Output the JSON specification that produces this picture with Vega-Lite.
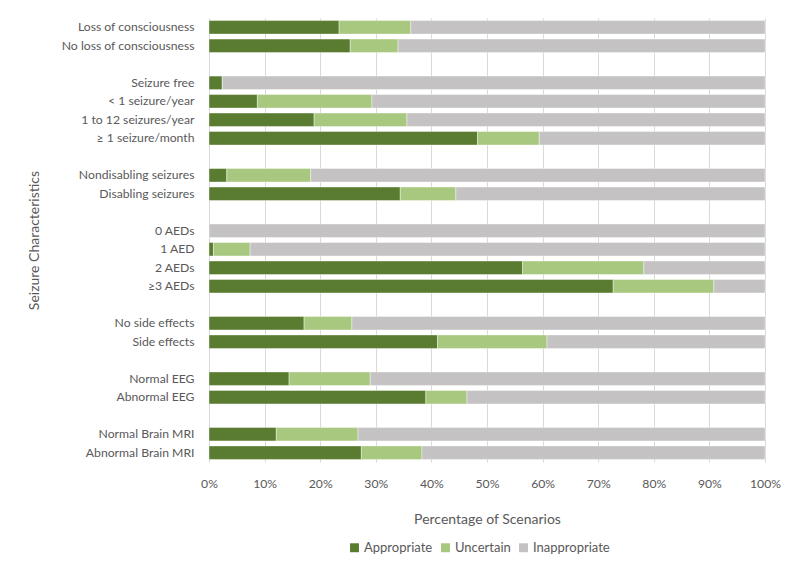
{
  "$schema": "https://vega.github.io/schema/vega-lite/v6.json",
  "width": 556,
  "height": 444,
  "autosize": {"type": "none"},
  "padding": {"left": 209, "top": 18, "right": 35, "bottom": 113},
  "background": "white",
  "config": {
    "font": "Lato",
    "view": {"stroke": null},
    "axis": {"labelColor": "#595959", "titleColor": "#595959", "labelFont": "Lato", "titleFont": "Lato", "titleFontWeight": "normal"}
  },
  "data": {
    "values": [
      {"c": "Loss of consciousness", "r": "Appropriate", "k": 1, "v": 23.4},
      {"c": "Loss of consciousness", "r": "Uncertain", "k": 2, "v": 12.9},
      {"c": "Loss of consciousness", "r": "Inappropriate", "k": 3, "v": 63.7},
      {"c": "No loss of consciousness", "r": "Appropriate", "k": 1, "v": 25.4},
      {"c": "No loss of consciousness", "r": "Uncertain", "k": 2, "v": 8.6},
      {"c": "No loss of consciousness", "r": "Inappropriate", "k": 3, "v": 66.0},
      {"c": "Seizure free", "r": "Appropriate", "k": 1, "v": 2.4},
      {"c": "Seizure free", "r": "Uncertain", "k": 2, "v": 0},
      {"c": "Seizure free", "r": "Inappropriate", "k": 3, "v": 97.6},
      {"c": "< 1 seizure/year", "r": "Appropriate", "k": 1, "v": 8.7},
      {"c": "< 1 seizure/year", "r": "Uncertain", "k": 2, "v": 20.6},
      {"c": "< 1 seizure/year", "r": "Inappropriate", "k": 3, "v": 70.7},
      {"c": "1 to 12 seizures/year", "r": "Appropriate", "k": 1, "v": 18.9},
      {"c": "1 to 12 seizures/year", "r": "Uncertain", "k": 2, "v": 16.7},
      {"c": "1 to 12 seizures/year", "r": "Inappropriate", "k": 3, "v": 64.4},
      {"c": "≥ 1 seizure/month", "r": "Appropriate", "k": 1, "v": 48.3},
      {"c": "≥ 1 seizure/month", "r": "Uncertain", "k": 2, "v": 11.1},
      {"c": "≥ 1 seizure/month", "r": "Inappropriate", "k": 3, "v": 40.6},
      {"c": "Nondisabling seizures", "r": "Appropriate", "k": 1, "v": 3.2},
      {"c": "Nondisabling seizures", "r": "Uncertain", "k": 2, "v": 15.1},
      {"c": "Nondisabling seizures", "r": "Inappropriate", "k": 3, "v": 81.7},
      {"c": "Disabling seizures", "r": "Appropriate", "k": 1, "v": 34.4},
      {"c": "Disabling seizures", "r": "Uncertain", "k": 2, "v": 10.0},
      {"c": "Disabling seizures", "r": "Inappropriate", "k": 3, "v": 55.6},
      {"c": "0 AEDs", "r": "Appropriate", "k": 1, "v": 0},
      {"c": "0 AEDs", "r": "Uncertain", "k": 2, "v": 0},
      {"c": "0 AEDs", "r": "Inappropriate", "k": 3, "v": 100},
      {"c": "1 AED", "r": "Appropriate", "k": 1, "v": 0.8},
      {"c": "1 AED", "r": "Uncertain", "k": 2, "v": 6.6},
      {"c": "1 AED", "r": "Inappropriate", "k": 3, "v": 92.6},
      {"c": "2 AEDs", "r": "Appropriate", "k": 1, "v": 56.4},
      {"c": "2 AEDs", "r": "Uncertain", "k": 2, "v": 21.8},
      {"c": "2 AEDs", "r": "Inappropriate", "k": 3, "v": 21.8},
      {"c": "≥3 AEDs", "r": "Appropriate", "k": 1, "v": 72.7},
      {"c": "≥3 AEDs", "r": "Uncertain", "k": 2, "v": 18.1},
      {"c": "≥3 AEDs", "r": "Inappropriate", "k": 3, "v": 9.2},
      {"c": "No side effects", "r": "Appropriate", "k": 1, "v": 17.1},
      {"c": "No side effects", "r": "Uncertain", "k": 2, "v": 8.6},
      {"c": "No side effects", "r": "Inappropriate", "k": 3, "v": 74.3},
      {"c": "Side effects", "r": "Appropriate", "k": 1, "v": 41.1},
      {"c": "Side effects", "r": "Uncertain", "k": 2, "v": 19.7},
      {"c": "Side effects", "r": "Inappropriate", "k": 3, "v": 39.2},
      {"c": "Normal EEG", "r": "Appropriate", "k": 1, "v": 14.4},
      {"c": "Normal EEG", "r": "Uncertain", "k": 2, "v": 14.6},
      {"c": "Normal EEG", "r": "Inappropriate", "k": 3, "v": 71.0},
      {"c": "Abnormal EEG", "r": "Appropriate", "k": 1, "v": 39.0},
      {"c": "Abnormal EEG", "r": "Uncertain", "k": 2, "v": 7.4},
      {"c": "Abnormal EEG", "r": "Inappropriate", "k": 3, "v": 53.6},
      {"c": "Normal Brain MRI", "r": "Appropriate", "k": 1, "v": 12.1},
      {"c": "Normal Brain MRI", "r": "Uncertain", "k": 2, "v": 14.7},
      {"c": "Normal Brain MRI", "r": "Inappropriate", "k": 3, "v": 73.2},
      {"c": "Abnormal Brain MRI", "r": "Appropriate", "k": 1, "v": 27.4},
      {"c": "Abnormal Brain MRI", "r": "Uncertain", "k": 2, "v": 10.9},
      {"c": "Abnormal Brain MRI", "r": "Inappropriate", "k": 3, "v": 61.7}
    ]
  },
  "mark": {"type": "bar", "stroke": "white", "strokeWidth": 0.4},
  "encoding": {
    "y": {
      "field": "c",
      "type": "nominal",
      "scale": {
        "domain": ["Loss of consciousness", "No loss of consciousness", "gap1", "Seizure free", "< 1 seizure/year", "1 to 12 seizures/year", "≥ 1 seizure/month", "gap2", "Nondisabling seizures", "Disabling seizures", "gap3", "0 AEDs", "1 AED", "2 AEDs", "≥3 AEDs", "gap4", "No side effects", "Side effects", "gap5", "Normal EEG", "Abnormal EEG", "gap6", "Normal Brain MRI", "Abnormal Brain MRI"],
        "paddingInner": 0.27,
        "paddingOuter": 0.14
      },
      "axis": {
        "title": "Seizure Characteristics",
        "titleFontSize": 14,
        "titleX": -168,
        "titleY": 222,
        "titleAngle": -90,
        "labelExpr": "indexof(datum.label, 'gap') == 0 ? '' : datum.label",
        "labelFontSize": 12.2,
        "labelPadding": 15,
        "ticks": false,
        "domain": false,
        "grid": false
      }
    },
    "x": {
      "field": "v",
      "type": "quantitative",
      "stack": "zero",
      "scale": {"domain": [0, 100], "nice": false},
      "axis": {
        "title": "Percentage of Scenarios",
        "titleFontSize": 14,
        "titlePadding": 23,
        "values": [0, 10, 20, 30, 40, 50, 60, 70, 80, 90, 100],
        "labelExpr": "datum.value + '%'",
        "labelFlush": false,
        "labelFontSize": 12.2,
        "labelPadding": 15,
        "ticks": false,
        "domain": false,
        "grid": true,
        "gridColor": "#d9d9d9",
        "gridWidth": 1
      }
    },
    "color": {
      "field": "r",
      "type": "nominal",
      "scale": {
        "domain": ["Appropriate", "Uncertain", "Inappropriate"],
        "range": ["#5a7c30", "#a8c87f", "#c4c2c3"]
      },
      "legend": {
        "title": null,
        "orient": "none",
        "direction": "horizontal",
        "legendX": 139,
        "legendY": 523,
        "symbolType": "square",
        "symbolSize": 80,
        "symbolStrokeWidth": 0,
        "labelFontSize": 13,
        "labelColor": "#595959",
        "labelFont": "Lato",
        "columnPadding": 6,
        "labelOffset": 3
      }
    },
    "order": {"field": "k", "type": "quantitative"}
  }
}
